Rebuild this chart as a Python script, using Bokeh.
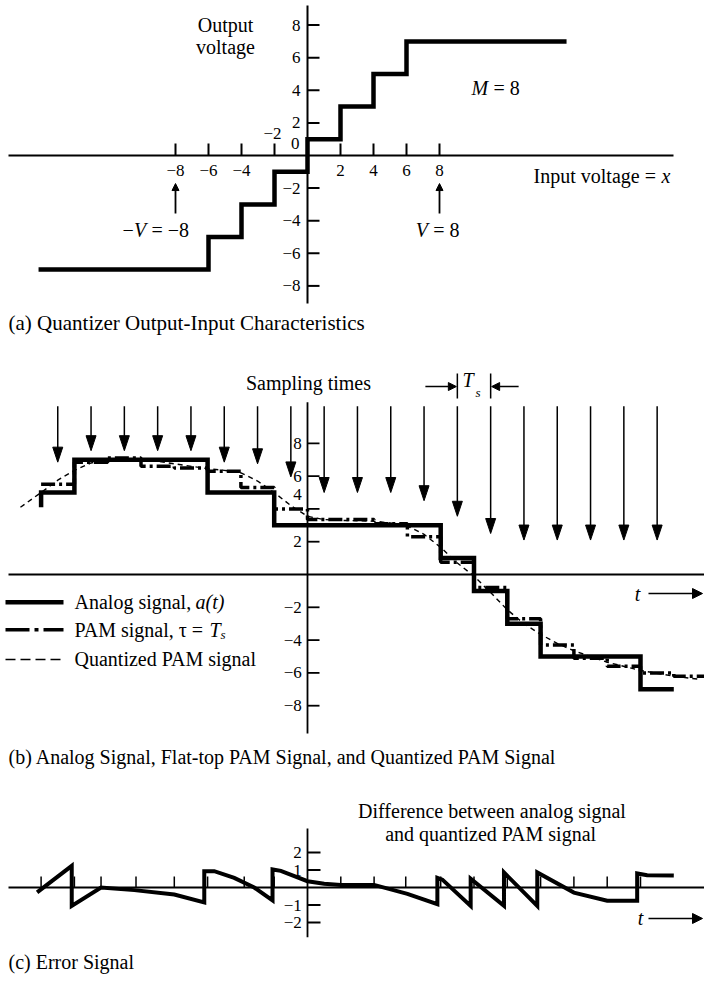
from bokeh.plotting import figure
from bokeh.layouts import column
from bokeh.models import Range1d, Arrow, NormalHead
from bokeh.core.properties import value
from bokeh.embed import file_html
from bokeh.resources import INLINE

FONT = "Liberation Serif"
W = 704          # page width used (the page renders without a body margin)
HA, HB, HC = 338, 437, 203

# ---------------- Panel (a): quantizer characteristic ----------------
A_STEP_EDGES = [-16.3, -6, -4, -2, 0, 2, 4, 6, 15.7]
A_STEP_LEVELS = [-7, -5, -3, -1, 1, 3, 5, 7]
A_XTICKS = [-8, -6, -4, -2, 2, 4, 6, 8]
A_XTICK_LABELS = ["−8", "−6", "−4", "", "2", "4", "6", "8"]
A_YTICKS = [8, 6, 4, 2, -2, -4, -6, -8]
A_YTICK_LABELS = ["8", "6", "4", "2", "−2", "−4", "−6", "−8"]
A_V_MARKS = [-8, 8]

# ---------------- Panel (b): analog, PAM and quantized PAM ----------------
B_SAMPLE_T = [-7.5, -6.5, -5.5, -4.5, -3.5, -2.5, -1.5, -0.5, 0.5, 1.5,
              2.5, 3.5, 4.5, 5.5, 6.5, 7.5, 8.5, 9.5, 10.5]
B_ARROW_TIP = [6.85, 7.55, 7.55, 7.55, 7.55, 6.85, 6.75, 5.95, 5.0, 5.0,
               5.0, 4.5, 3.55, 2.5, 2.1, 2.1, 2.1, 2.1, 2.1]
B_QUANT_EDGES = [-8, -7, -3, -1, 4, 5, 6, 7, 10, 11]
B_QUANT_LEVELS = [5, 7, 5, 3, 1, -1, -3, -5, -7]
B_QUANT_START = 4.1
B_PAM_EDGES = [-8, -7, -6, -5, -4, -3, -2, -1, 0, 1, 2, 3, 4, 5, 6, 7, 8, 9, 10, 11, 12]
B_PAM_VALUES = [5.5, 6.85, 7.1, 6.6, 6.5, 6.3, 5.3, 4.0, 3.35, 3.35,
                3.1, 2.3, 0.75, -0.8, -2.7, -4.3, -5.1, -5.6, -6.0, -6.2]
B_ANALOG_T = [-8.62, -8.0, -7.5, -7.0, -6.5, -6.0, -5.0, -4.0, -3.0, -2.5, -2.0,
              -1.5, -1.0, -0.5, 0.0, 0.5, 1.0, 2.0, 2.9, 3.5, 4.0, 4.5, 5.0,
              5.5, 6.0, 6.5, 7.0, 7.5, 8.0, 9.0, 10.0, 11.0, 11.8]
B_ANALOG_V = [4.1, 5.0, 5.75, 6.35, 6.8, 7.0, 7.05, 6.75, 6.45, 6.35, 6.2,
              5.7, 5.0, 4.2, 3.55, 3.35, 3.3, 3.25, 3.05, 2.45, 1.65, 0.7, -0.1,
              -1.1, -2.15, -3.0, -3.65, -4.2, -4.65, -5.35, -5.85, -6.2, -6.4]
B_YTICKS = [8, 6, 4, 2, -2, -4, -6, -8]
B_YTICK_LABELS = ["8", "6", "4", "2", "−2", "−4", "−6", "−8"]
B_YLABEL_SHIFT = [0, 0, 14, 0, 0, 0, 0, 0]   # px upward (label "4" sits above its tick)
B_TS_BARS = [4.5, 5.5]

# ---------------- Panel (c): error signal ----------------
C_ERR_T = [-8.12, -7.08, -7.08, -6.2, -5.2, -4.0, -3.1, -3.1, -2.8, -2.2, -1.6,
           -1.05, -1.05, -0.8, 0.0, 0.5, 1.0, 2.0, 3.0, 3.9, 3.9, 4.05, 4.9, 4.9,
           5.9, 5.9, 6.9, 6.9, 8.0, 9.0, 9.9, 9.9, 10.2, 11.0]
C_ERR_V = [-0.28, 1.24, -1.05, 0.0, -0.15, -0.4, -0.85, 0.93, 0.93, 0.55, 0.0,
           -0.74, 1.03, 0.95, 0.36, 0.21, 0.15, 0.15, -0.36, -0.95, 0.55, 0.45, -1.05, 0.5,
           -1.05, 0.86, -1.05, 0.86, -0.29, -0.76, -0.76, 0.8, 0.7, 0.68]
C_XTICKS = [-8, -7, -6.2, -5.15, -4, -3, -1.9, -1, 1, 2, 2.95, 4, 5, 6, 7, 8, 9, 10]
C_YTICKS = [2, 1, -1, -2]
C_YTICK_LABELS = ["2", "1", "−1", "−2"]


def make_fig(h, xr, yr):
    p = figure(width=W, height=h, x_range=Range1d(*xr), y_range=Range1d(*yr),
               output_backend="svg", toolbar_location=None,
               x_axis_location=None, y_axis_location=None, min_border=0,
               outline_line_color=None, background_fill_color="white",
               border_fill_color="white")
    p.grid.visible = False
    return p


def txt(p, x, y, s, size=20, align="left", style="normal", xo=0, yo=0):
    p.text(x=[x], y=[y], text=[s], text_font=value(FONT), text_font_size=f"{size}px",
           text_align=align, text_baseline="middle", text_font_style=style,
           x_offset=xo, y_offset=yo, text_color="black")


def arrow(p, x0, y0, x1, y1, size=8, lw=1.5):
    p.add_layout(Arrow(end=NormalHead(size=size, fill_color="black", line_color="black",
                                      line_width=1),
                       x_start=x0, y_start=y0, x_end=x1, y_end=y1,
                       line_width=lw, line_color="black"))


def step_path(edges, levels, start=None):
    xs, ys = [], []
    if start is not None:
        xs.append(edges[0]); ys.append(start)
    for i, lv in enumerate(levels):
        xs += [edges[i], edges[i + 1]]
        ys += [lv, lv]
    return xs, ys


# ======================= Panel (a) =======================
AX, AY = 16.5, 16.3   # px per unit; origin at page pixel (307, 155)
pa = make_fig(HA, ((0 - 307) / AX, (W - 307) / AX), ((155 - HA) / AY, (155 - 0) / AY))
pa.segment(x0=[(8 - 307) / AX, 0], y0=[0, 9.2], x1=[(673 - 307) / AX, 0], y1=[0, -9.08],
           line_color="black", line_width=2)
pa.segment(x0=A_XTICKS, y0=[0] * len(A_XTICKS), x1=A_XTICKS, y1=[12 / AY] * len(A_XTICKS),
           line_color="black", line_width=2)
pa.segment(x0=[0] * len(A_YTICKS), y0=A_YTICKS, x1=[12 / AX] * len(A_YTICKS), y1=A_YTICKS,
           line_color="black", line_width=2)
for xt, lab in zip(A_XTICKS, A_XTICK_LABELS):
    if lab:
        txt(pa, xt, -0.92, lab, size=17, align="center")
for yt, lab in zip(A_YTICKS, A_YTICK_LABELS):
    txt(pa, -0.42, yt, lab, size=17, align="right")
txt(pa, -2.12, 1.35, "−2", size=17, align="center")
txt(pa, -0.75, 0.74, "0", size=17, align="center")
sx, sy = step_path(A_STEP_EDGES, A_STEP_LEVELS)
pa.line(sx, sy, line_color="black", line_width=4.5, line_join="miter")
txt(pa, -4.97, 7.98, "Output", align="center")
txt(pa, -4.97, 6.63, "voltage", align="center")
txt(pa, 9.94, 4.17, "M", style="italic")
txt(pa, 9.94, 4.17, "= 8", xo=22)
txt(pa, 13.7, -1.23, "Input voltage =")
txt(pa, 13.7, -1.23, "x", style="italic", xo=128)
for vm in A_V_MARKS:
    arrow(pa, vm, -3.56, vm, -1.72, size=7, lw=1.8)
txt(pa, -11.21, -4.6, "−")
txt(pa, -11.21, -4.6, "V", style="italic", xo=11.5)
txt(pa, -11.21, -4.6, "= −8", xo=29)
txt(pa, 6.56, -4.6, "V", style="italic")
txt(pa, 6.56, -4.6, "= 8", xo=17.5)
txt(pa, (8 - 307) / AX, -10.3, "(a) Quantizer Output-Input Characteristics", size=21)

# ======================= Panel (b) =======================
BT, BV = 33.3, 16.4   # origin at page pixel (307, 574)
pb = make_fig(HB, ((0 - 307) / BT, (W - 307) / BT), ((574 - 775) / BV, (574 - 338) / BV))
pb.segment(x0=[(8 - 307) / BT, 0], y0=[0, 10.5], x1=[(W - 307) / BT, 0], y1=[0, -9.7],
           line_color="black", line_width=1.8)
pb.segment(x0=[0] * len(B_YTICKS), y0=B_YTICKS, x1=[12 / BT] * len(B_YTICKS), y1=B_YTICKS,
           line_color="black", line_width=1.8)
for yt, lab, sh in zip(B_YTICKS, B_YTICK_LABELS, B_YLABEL_SHIFT):
    txt(pb, -0.17, yt, lab, size=17, align="right", yo=-sh)
# sampling arrows
head_h, head_w = 15 / BV, 5 / BT
pb.segment(x0=B_SAMPLE_T, y0=[10.26] * len(B_SAMPLE_T), x1=B_SAMPLE_T,
           y1=[tp + head_h * 0.5 for tp in B_ARROW_TIP], line_color="black", line_width=1.5)
pb.patches(xs=[[t - head_w, t + head_w, t] for t in B_SAMPLE_T],
           ys=[[tp + head_h, tp + head_h, tp] for tp in B_ARROW_TIP],
           fill_color="black", line_color="black", line_width=1)
txt(pb, 0.03, 11.7, "Sampling times", align="center")
# Ts marker
pb.segment(x0=B_TS_BARS, y0=[10.73] * 2, x1=B_TS_BARS, y1=[12.26] * 2,
           line_color="black", line_width=1.5)
arrow(pb, 3.54, 11.46, B_TS_BARS[0] - 0.03, 11.46, size=8)
arrow(pb, 6.34, 11.46, B_TS_BARS[1] + 0.03, 11.46, size=8)
txt(pb, 4.82, 11.83, "T", style="italic", align="center")
txt(pb, 5.12, 11.12, "s", size=13, style="italic", align="center")
# signals
pb.line(B_ANALOG_T, B_ANALOG_V, line_color="black", line_width=1.4, line_dash="5 4")
px_, py_ = step_path(B_PAM_EDGES, B_PAM_VALUES)
pb.line(px_, py_, line_color="black", line_width=3.5, line_dash="14 4 3 4")
qx, qy = step_path(B_QUANT_EDGES, B_QUANT_LEVELS, start=B_QUANT_START)
pb.line(qx, qy, line_color="black", line_width=4.5, line_join="miter")
# legend
lx0, lx1, ltx = (5 - 307) / BT, (63 - 307) / BT, (74 - 307) / BT
pb.line([lx0, lx1], [-1.69, -1.69], line_color="black", line_width=4.5)
pb.line([lx0, lx1], [-3.37, -3.37], line_color="black", line_width=3.5, line_dash="24 5 4 5")
pb.line([lx0, lx1], [-5.18, -5.18], line_color="black", line_width=1.4, line_dash="10 5")
txt(pb, ltx, -1.69, "Analog signal,")
txt(pb, ltx, -1.69, "a(t)", style="italic", xo=121)
txt(pb, ltx, -3.37, "PAM signal, τ =")
txt(pb, ltx, -3.37, "T", style="italic", xo=135)
txt(pb, ltx, -3.37, "s", size=13, style="italic", xo=146, yo=5)
txt(pb, ltx, -5.18, "Quantized PAM signal")
txt(pb, 9.91, -1.16, "t", style="italic", align="center")
arrow(pb, 10.24, -1.16, (W - 2 - 307) / BT, -1.16, size=10)
txt(pb, (8 - 307) / BT, -11.13, "(b) Analog Signal, Flat-top PAM Signal, and Quantized PAM Signal", size=20)

# ======================= Panel (c) =======================
CT, CE = 33.3, 17.5   # origin at page pixel (307, 887)
pc = make_fig(HC, ((0 - 307) / CT, (W - 307) / CT), ((887 - 978) / CE, (887 - 775) / CE))
pc.segment(x0=[(8 - 307) / CT, 0], y0=[0, 3.37], x1=[(W - 307) / CT, 0], y1=[0, -2.84],
           line_color="black", line_width=1.8)
pc.segment(x0=C_XTICKS, y0=[0] * len(C_XTICKS), x1=C_XTICKS, y1=[11 / CE] * len(C_XTICKS),
           line_color="black", line_width=1.5)
pc.segment(x0=[0] * len(C_YTICKS), y0=C_YTICKS, x1=[13 / CT] * len(C_YTICKS), y1=C_YTICKS,
           line_color="black", line_width=1.8)
for yt, lab in zip(C_YTICKS, C_YTICK_LABELS):
    txt(pc, -0.17, yt, lab, size=17, align="right")
pc.line(C_ERR_T, C_ERR_V, line_color="black", line_width=4, line_join="miter")
txt(pc, 5.54, 4.4, "Difference between analog signal", align="center")
txt(pc, 5.5, 3.07, "and quantized PAM signal", align="center")
txt(pc, 10.0, -1.77, "t", style="italic", align="center")
arrow(pc, 10.24, -1.77, (W - 2 - 307) / CT, -1.77, size=10)
txt(pc, (8 - 307) / CT, -4.25, "(c) Error Signal", size=20)

layout = column(pa, pb, pc, spacing=0)
open("out.html", "w").write(file_html(layout, INLINE))
